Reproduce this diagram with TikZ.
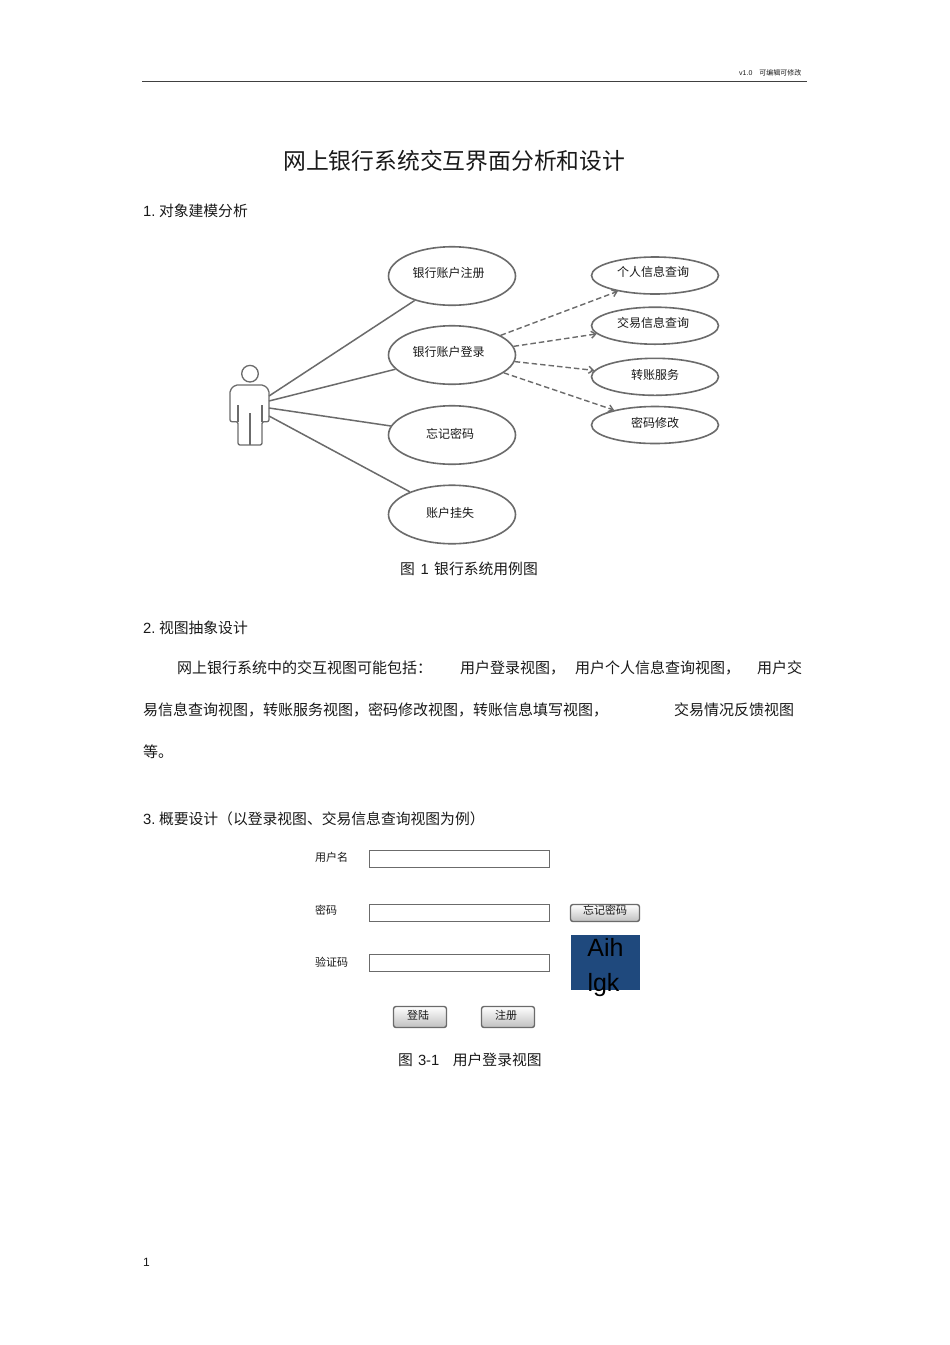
\documentclass[tikz,border=0pt]{standalone}
\usepackage{fontspec}
\setmainfont{Noto Sans CJK SC}
\newfontfamily\lat{Liberation Sans}
\usetikzlibrary{shapes.geometric,arrows.meta}
\definecolor{ink}{gray}{0.1}
\definecolor{edge}{gray}{0.42}
\definecolor{capblue}{HTML}{1F497D}
\newcommand{\fs}[1]{\fontsize{#1}{#1}\selectfont}
\newcommand{\lbl}[3]{\raisebox{#2}[0pt][0pt]{#3\kern#1}}
\tikzset{
  txt/.style={anchor=base west,inner sep=0pt,text=ink,font=\fs{15}},
  head/.style={anchor=base west,inner sep=0pt,text=ink,font=\fs{14.8}},
  small/.style={anchor=base west,inner sep=0pt,text=ink,font=\fs{11}},
  bigcase/.style={ellipse,draw=edge,line width=1.6pt,fill=white,minimum width=127pt,minimum height=58.5pt,inner sep=0pt,text=ink,font=\fs{12}},
  smallcase/.style={ellipse,draw=edge,line width=1.6pt,fill=white,minimum width=127pt,minimum height=37pt,inner sep=0pt,text=ink,font=\fs{12}},
  assoc/.style={draw=edge,line width=1.5pt},
  dep/.style={draw=edge,line width=1.4pt,dash pattern=on 5.5pt off 3pt,-{Straight Barb[length=4.5pt,width=7pt]}},
  actorline/.style={draw=edge,line width=1.3pt},
  field/.style={rectangle,draw=edge,line width=1.2pt,fill=white,minimum width=180.5pt,minimum height=17pt,inner sep=0pt},
  btn/.style={rectangle,rounded corners=2.5pt,draw=edge,line width=1.4pt,top color=white,bottom color=gray!50,inner sep=0pt,text=ink,font=\fs{11}},
}
\begin{document}
\begin{tikzpicture}[x=1pt,y=-1pt]
\useasboundingbox (0,0) rectangle (950,1345);
\fill[white] (0,0) rectangle (950,1345);
% header
\node[anchor=base west,inner sep=0pt,text=ink,font=\fs{7}] (hdr) at (739,75) {{\lat v1.0}\hspace{7pt}可编辑可修改};
\coordinate (ruleL) at (142,81.5);
\coordinate (ruleR) at (807,81.5);
\draw[black!75,line width=1pt] (ruleL) -- (ruleR);
% title and sections
\node[txt,font=\fs{22.8}] (title) at (283,169) {网上银行系统交互界面分析和设计};
\node[head] (s1) at (143,216.5) {{\lat 1.}\hspace{3.5pt}对象建模分析};
\node[head] (cap1) at (400,574.5) {图\hspace{5.5pt}{\lat 1}\hspace{5.5pt}银行系统用例图};
\node[head] (s2) at (143,633.5) {{\lat 2.}\hspace{3.5pt}视图抽象设计};
\node[txt] (p1a) at (177,673.5) {网上银行系统中的交互视图可能包括：};
\node[txt] (p1b) at (460,673.5) {用户登录视图，};
\node[txt] (p1c) at (575,673.5) {用户个人信息查询视图，};
\node[txt] (p1d) at (757,673.5) {用户交};
\node[txt] (p2a) at (143,715.5) {易信息查询视图，转账服务视图，密码修改视图，转账信息填写视图，};
\node[txt] (p2b) at (674,715.5) {交易情况反馈视图};
\node[txt] (p3) at (143,757.5) {等。};
\node[head] (s3) at (143,824) {{\lat 3.}\hspace{3.5pt}概要设计（以登录视图、交易信息查询视图为例）};
\node[head] (cap2) at (398,1065) {图\hspace{5pt}{\lat 3-1}\hspace{13.5pt}用户登录视图};
\node[anchor=base west,inner sep=0pt,text=ink,font=\fs{12}\lat] (pageno) at (143,1266) {1};
% actor
\node[circle,draw=edge,line width=1.3pt,fill=white,minimum size=16.6pt,inner sep=0pt] (head) at (250,373.7) {};
\draw[actorline,rounded corners=2pt] (230,421.7) -- (230,390) -- (235,385) -- (264,385) -- (269,390) -- (269,421.7) -- (262,421.7) -- (262,445) -- (238,445) -- (238,421.7) -- cycle;
\draw[actorline] (238,405) -- (238,421.7);
\draw[actorline] (262,405) -- (262,421.7);
\draw[actorline] (250,413) -- (250,445);
\coordinate (a1) at (269,396);
\coordinate (a2) at (269,401);
\coordinate (a3) at (269,408);
\coordinate (a4) at (269,416);
% use cases
\node[bigcase] (reg) at (452,276) {\lbl{7pt}{-1.5pt}{银行账户注册}};
\node[bigcase] (login) at (452,355) {\lbl{7pt}{-1.5pt}{银行账户登录}};
\node[bigcase] (forgot) at (452,435) {\lbl{4pt}{-3pt}{忘记密码}};
\node[bigcase] (lost) at (452,514.5) {\lbl{4pt}{-2.5pt}{账户挂失}};
\node[smallcase] (info) at (655,275.5) {\lbl{4pt}{-1pt}{个人信息查询}};
\node[smallcase] (trade) at (655,325.7) {\lbl{4pt}{-2pt}{交易信息查询}};
\node[smallcase] (trans) at (655,376.8) {\lbl{0pt}{-2.7pt}{转账服务}};
\node[smallcase] (pwd) at (655,425) {\lbl{0pt}{-2.5pt}{密码修改}};
\draw[assoc] (a1) -- (reg);
\draw[assoc] (a2) -- (login);
\draw[assoc] (a3) -- (forgot);
\draw[assoc] (a4) -- (lost);
\draw[dep] (login.22) -- (info.203);
\draw[dep] (login.8) -- (trade.188);
\draw[dep] (login.-6) -- (trans.174);
\draw[dep] (login.-19) -- (pwd.160);
% login form
\node[small] (lu) at (315,861.5) {用户名};
\node[small] (lp) at (315,914.5) {密码};
\node[small] (lc) at (315,966) {验证码};
\node[field] (fu) at (459.5,859) {};
\node[field] (fp) at (459.5,913) {};
\node[field] (fc) at (459.5,963) {};
\node[btn,minimum width=69pt,minimum height=17pt] (bf) at (605,913) {\lbl{0pt}{-1.5pt}{忘记密码}};
\node[rectangle,fill=capblue,minimum width=69pt,minimum height=55pt,inner sep=0pt] (capbox) at (605.5,962.5) {};
\node[anchor=base,inner sep=0pt,font=\fs{25}\lat,text=black] (cap3) at (605.5,956) {Aih};
\node[anchor=base,inner sep=0pt,font=\fs{25}\lat,text=black] (cap4) at (603.5,991) {lgk};
\node[btn,minimum width=53pt,minimum height=21pt] (blogin) at (420,1017) {\lbl{4pt}{-2pt}{登陆}};
\node[btn,minimum width=53pt,minimum height=21pt] (bsign) at (508,1017) {\lbl{4pt}{-2pt}{注册}};
\end{tikzpicture}
\end{document}
